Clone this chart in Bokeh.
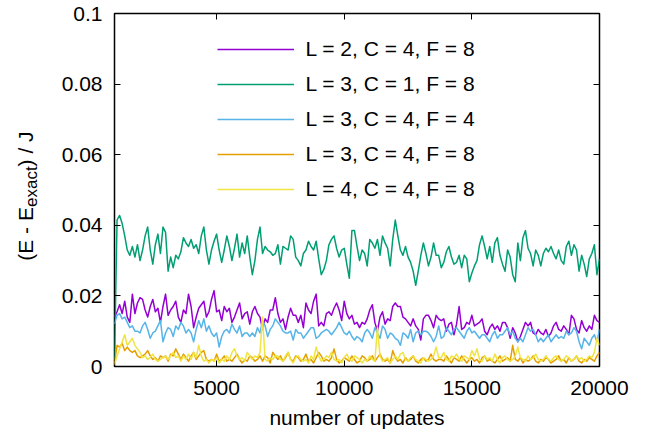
import numpy as np
from bokeh.plotting import figure
from bokeh.layouts import row
from bokeh.models import Range1d, FixedTicker, LinearAxis, Label, Legend, LegendItem
from bokeh.embed import file_html
from bokeh.resources import INLINE

# ---------------- data (values in units of 1e-3 J) ----------------
update_start = 1000
update_step = 100

green_milli = [
    2, 41.5, 42.8, 40.5, 37, 33, 31.5, 34,
    31, 34.5, 30, 33, 37, 39.5, 33, 29,
    34.5, 37.5, 32, 39.5, 38, 27, 31, 28,
    31.5, 30.5, 32.5, 36.5, 35, 34, 36, 33.5,
    34.5, 32, 37, 39.5, 33, 29, 33, 35.5,
    37.5, 33, 29.5, 33, 37, 34, 30, 33.5,
    37.5, 31, 35, 32, 37, 31, 26, 30,
    36, 39.5, 32, 34, 33, 32.5, 31.5, 32,
    34.5, 29, 34, 33.5, 33, 37, 36, 31,
    30, 28.5, 32, 33, 35.5, 34, 33, 35.5,
    30.5, 26, 27.5, 30, 34.5, 36, 37, 33.5,
    31, 33, 33.5, 29, 25, 38.5, 38.5, 34,
    30, 33, 32, 28.5, 36, 35, 33.5, 36,
    31.5, 37, 35, 33.5, 28.5, 36, 41.5, 37,
    33, 31.5, 34, 31, 29.5, 27, 23, 27,
    31.5, 35, 32, 28.5, 31, 35, 31.5, 31.5,
    28, 29.5, 32.5, 34, 31, 29, 29.5, 31.5,
    28, 31.5, 30.5, 24, 26.5, 28.5, 30, 34.5,
    37, 34, 30.5, 34, 29.5, 35, 36.5, 31.5,
    29, 27, 33, 31, 26, 24, 35, 30,
    36.5, 38.5, 33.5, 32, 28.5, 33, 31.5, 28.5,
    32, 33.5, 32.5, 34, 32, 30.5, 33, 30,
    29, 34, 35.5, 31.5, 34.5, 33, 27, 31.5,
    29, 25.5, 30.5, 32, 34.5, 26, 30.5,
]

purple_milli = [
    14, 15.5, 17.5, 15, 18.5, 14, 12.5, 20.5,
    15, 18, 19.5, 19, 16, 14, 17, 19,
    15.5, 16.5, 12.5, 17, 20.5, 14.5, 16, 17,
    18.5, 14, 12.5, 16, 15, 20.5, 17, 11,
    14, 16.5, 17.5, 18.5, 14, 15.5, 19, 21.5,
    15.5, 16, 13, 17, 15.5, 16.5, 12.5, 14,
    16, 18, 13.5, 15, 15.5, 12, 15.5, 17,
    15, 14, 10.5, 13.5, 12.5, 16, 16, 19.5,
    15, 12.5, 13.5, 10.5, 14, 16.5, 14.5, 14.5,
    12.5, 14.5, 11, 18, 16, 15, 18.5, 20.5,
    11.5, 12.5, 11.5, 15, 15.5, 14.5, 16.5, 18,
    16, 13, 18.5, 15, 13.5, 14.5, 12, 12.5,
    11, 12.5, 12, 13.5, 16, 17.5, 12.5, 10,
    14, 15.5, 12, 13.5, 13, 17, 18, 17,
    17, 14, 13.5, 12.5, 11.5, 13.5, 11.5, 10.5,
    7.5, 13.5, 14.5, 14.5, 13, 11, 14.5, 13.5,
    13, 13.5, 10, 12, 12.5, 9, 12, 17,
    10.5, 11, 12.5, 12, 14.5, 11.5, 12, 12.5,
    13.5, 10, 9, 11, 12, 10.5, 11.5, 10,
    12.5, 12.5, 11, 8, 11, 9.5, 7, 8.5,
    10.5, 12.5, 11.5, 12.5, 9.5, 9, 10.5, 9.5,
    9, 10.5, 8.5, 9.5, 11.5, 12.5, 10.5, 10,
    11.5, 10.5, 9, 14.5, 13.5, 10.5, 9.5, 13,
    11, 10, 11.5, 10.5, 14.5, 13, 12.5,
]

blue_milli = [
    12, 14.5, 15, 13.5, 14, 12.5, 11, 11.5,
    10, 10, 9.5, 11.5, 12.5, 10.5, 8, 9.5,
    10, 11.5, 13, 7, 9.5, 11, 10.5, 8.5,
    11.5, 10.5, 12.5, 11.5, 9.5, 10.5, 9.5, 7,
    10.5, 13, 11, 13.5, 10, 11.5, 9.5, 8.5,
    9.5, 5.5, 8.5, 10, 10.5, 9.5, 12, 10.5,
    9.5, 11.5, 8.5, 9.5, 9.5, 8.5, 9.5, 8.5,
    11, 9.5, 13, 11.5, 8.5, 10.5, 11.5, 13.5,
    12.5, 11.5, 10, 9.5, 9.5, 10, 7.5, 10.5,
    9.5, 9.5, 8, 9, 10, 11, 11, 8,
    8.5, 9.5, 10, 10.5, 10, 9, 10, 11,
    12.5, 11, 9.5, 9, 10, 8.5, 7.5, 8.5,
    8, 7, 9.5, 10.5, 9.5, 8, 11, 9.5,
    8, 11.5, 10.5, 8, 9.5, 9, 8, 7.5,
    6, 9.5, 9, 8, 10.5, 7, 9.5, 10,
    9, 10, 10, 9.5, 8.5, 7, 8.5, 11.5,
    8, 8.5, 11, 10, 9, 10.5, 11, 10,
    9, 8, 10, 11, 9.5, 10, 9, 8,
    9, 9, 8, 7, 9, 10, 8, 9,
    9, 10, 11, 9, 10, 8, 7, 8,
    7, 9, 11, 10, 10.5, 9, 7, 8,
    7, 8, 9, 7, 8, 9, 8, 8.5,
    8, 10, 9, 9.5, 11, 10, 7, 5,
    8, 7, 6, 8, 9, 7, 10.5,
]

orange_milli = [
    1, 6, 5.5, 6.5, 4.5, 5.5, 4.5, 4,
    4.5, 3, 2.5, 3, 3.5, 4.5, 3, 2,
    2.5, 1.5, 3, 2.5, 3, 1.5, 3.5, 3,
    5, 3.5, 2, 3.5, 2.5, 1.5, 3, 4,
    2, 3, 4, 4.5, 2, 1.5, 2, 1.5,
    3.5, 1.5, 2, 3, 1.5, 2, 1.5, 2.5,
    3.5, 2, 1, 2, 1.5, 3, 2.5, 1.5,
    2, 3, 1.5, 3, 2.5, 1, 4, 3,
    2, 3, 1.5, 2.5, 4, 2, 1.5, 3,
    2.5, 1.5, 2, 3.5, 1.5, 2, 1, 2.5,
    4, 3, 1.5, 2, 1.5, 2.5, 5, 2,
    1, 1.5, 2.5, 2, 1.5, 3, 2, 1,
    1.5, 3, 2.5, 1.5, 2, 3, 1.5, 2.5,
    3.5, 2, 1.5, 2, 1, 4.5, 2.5, 1.5,
    2, 1, 2.5, 1.5, 2, 3, 1.5, 1,
    2, 2.5, 1.5, 2, 3.5, 2, 1.5, 2,
    2, 1.5, 3, 2, 1, 2.5, 2, 1.5,
    3, 2, 1, 2, 2.5, 1.5, 2, 1,
    2.5, 3, 1.5, 2, 1.5, 1, 2, 3,
    1.5, 2, 2.5, 1.5, 6, 2, 1.5, 2.5,
    1, 2, 1.5, 2, 3, 1.5, 1, 2,
    1.5, 2.5, 2, 1, 1.5, 2, 3, 1.5,
    2, 1, 2.5, 1.5, 2, 3, 1.5, 1,
    2, 1.5, 2.5, 2, 1.5, 3, 4,
]

yellow_milli = [
    0.5, 3, 5, 7, 9, 6, 7, 8,
    6, 5, 4, 2.5, 3, 2, 2.5, 3.5,
    2, 1.5, 2, 2.5, 3, 2, 3, 4,
    2.5, 3, 1.5, 3, 2, 3.5, 2, 4,
    2.5, 6, 3, 1.5, 2, 1, 2, 1.5,
    2.5, 1, 2, 1.5, 3, 2, 4, 5,
    3, 2, 2.5, 1.5, 4, 3, 2, 3,
    2.5, 4, 14, 2, 1.5, 2.5, 2, 3,
    3, 2, 1.5, 3, 4, 2, 1, 2.5,
    3, 2, 1.5, 2, 1, 3, 2, 5.5,
    3, 1.5, 2, 3, 2.5, 4, 2, 1.5,
    2, 1, 2.5, 3.5, 2, 1.5, 3, 2.5,
    2, 1, 2, 1.5, 3, 2, 1.5, 11,
    3, 1.5, 2, 2.5, 1, 2, 3, 2,
    3.5, 4, 2, 1.5, 2.5, 3, 2, 1.5,
    1, 2.5, 2, 1.5, 2, 3, 5.5, 2.5,
    2.5, 4, 2, 1.5, 3, 2.5, 3.5, 2,
    1.5, 3, 2.5, 2, 4.5, 3, 5, 2,
    1.5, 3, 2, 2.5, 1.5, 3.5, 2, 1,
    2.5, 3, 2, 1.5, 2, 3, 5.5, 2.5,
    2, 1.5, 3, 2, 2.5, 3.5, 2, 1.5,
    2, 3, 2, 1.5, 2.5, 3, 2, 1.5,
    2, 3, 2.5, 1.5, 2, 3, 2, 2.5,
    1.5, 2, 3, 2.5, 4, 8, 6,
]

series_labels = [
    "L = 2, C = 4, F = 8",
    "L = 3, C = 1, F = 8",
    "L = 3, C = 4, F = 4",
    "L = 3, C = 4, F = 8",
    "L = 4, C = 4, F = 8",
]
series_values = [purple_milli, green_milli, blue_milli, orange_milli, yellow_milli]
colors = ["#9400D3", "#009E73", "#56B4E9", "#E69F00", "#F0E442"]

x_ticks = [5000, 10000, 15000, 20000]
x_tick_labels = ["5000", "10000", "15000", "20000"]
y_ticks = [0, 0.02, 0.04, 0.06, 0.08, 0.1]
y_tick_labels = ["0", "0.02", "0.04", "0.06", "0.08", "0.1"]

FONT = "Liberation Sans"
FS = "21px"
W, H = 653, 437
LW = 44                 # width of the strip that holds the y-axis title
B_TOP, B_BOTTOM = 13, 71

p = figure(width=W - LW, height=H, output_backend="svg", toolbar_location=None,
           x_range=Range1d(1000, 20000), y_range=Range1d(0, 0.1),
           min_border_left=114 - LW, min_border_right=54, min_border_top=B_TOP,
           min_border_bottom=B_BOTTOM)
p.grid.visible = False
p.background_fill_color = "white"
p.border_fill_color = "white"
p.outline_line_color = "black"
p.outline_line_width = 1.5

items = []
for lab, vals, col in zip(series_labels, series_values, colors):
    xs = [update_start + update_step * i for i in range(len(vals))]
    ys = [v / 1000.0 for v in vals]
    r = p.line(xs, ys, line_color=col, line_width=1.5, line_join="round")
    items.append(LegendItem(label=lab, renderers=[r]))

def style(ax, ticks, labels, show):
    ax.ticker = FixedTicker(ticks=ticks)
    ax.major_label_overrides = {t: (l if show else "") for t, l in zip(ticks, labels)}
    ax.major_tick_in = 6
    ax.major_tick_out = 0
    ax.major_tick_line_color = "black"
    ax.major_tick_line_width = 1
    ax.minor_tick_line_color = None
    ax.axis_line_color = None
    ax.major_label_text_font = FONT
    ax.major_label_text_font_size = FS if show else "1px"
    ax.major_label_text_color = "black"

style(p.xaxis[0], x_ticks, x_tick_labels, True)
style(p.yaxis[0], y_ticks, y_tick_labels, True)
p.xaxis[0].major_label_standoff = 14
p.yaxis[0].major_label_standoff = 12
p.xaxis[0].axis_label = "number of updates"
p.xaxis[0].axis_label_text_font = FONT
p.xaxis[0].axis_label_text_font_size = FS
p.xaxis[0].axis_label_text_font_style = "normal"
p.xaxis[0].axis_label_text_color = "black"
p.xaxis[0].axis_label_standoff = 8

top_ax = LinearAxis()
style(top_ax, x_ticks, x_tick_labels, False)
top_ax.major_label_standoff = 0
p.add_layout(top_ax, "above")
right_ax = LinearAxis()
style(right_ax, y_ticks, y_tick_labels, False)
right_ax.major_label_standoff = 0
p.add_layout(right_ax, "right")

legend = Legend(items=items, location=(102.5, 164.7),
                padding=0, margin=0, spacing=11,
                glyph_width=77, glyph_height=24, label_height=24,
                label_standoff=12,
                label_text_font=FONT, label_text_font_size=FS,
                label_text_color="black",
                border_line_color=None, background_fill_alpha=0)
p.add_layout(legend)

# narrow strip on the left carrying the y-axis title with its subscript;
# its frame is aligned with the main frame, so its y range is in page pixels
q = figure(width=LW, height=H, output_backend="svg", toolbar_location=None,
           x_range=Range1d(0, LW), y_range=Range1d(B_BOTTOM, H - B_TOP),
           x_axis_type=None, y_axis_type=None,
           min_border_left=0, min_border_right=0, min_border_top=B_TOP,
           min_border_bottom=B_BOTTOM)
q.grid.visible = False
q.outline_line_color = None
q.background_fill_color = "white"
q.border_fill_color = "white"
lab_kw = dict(angle=np.pi / 2, text_font=FONT, text_color="black",
              text_baseline="middle", text_align="center")
q.add_layout(Label(x=25.2, y=203.6, text="(E - E", text_font_size=FS, **lab_kw))
q.add_layout(Label(x=30.9, y=250.8, text="exact", text_font_size="17px", **lab_kw))
q.add_layout(Label(x=25.2, y=288.6, text=") / J", text_font_size=FS, **lab_kw))

layout = row(q, p, spacing=0)
open("out.html", "w").write(file_html(layout, INLINE))
